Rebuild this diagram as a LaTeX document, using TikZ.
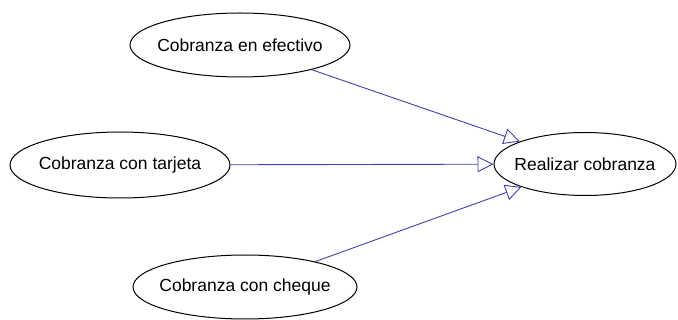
\documentclass[tikz,border=0pt]{standalone}
\usepackage{fontspec}
\setmainfont{Liberation Sans}
\usetikzlibrary{shapes.geometric,arrows.meta}
\definecolor{linkblue}{RGB}{64,64,176}
\begin{document}
\begin{tikzpicture}[x=1pt,y=-1pt,
  usecase/.style={draw=black, line width=1pt, ellipse, inner sep=0pt},
  label/.style={font=\fontsize{17.5}{20}\selectfont, inner sep=0pt},
  gen/.style={draw=linkblue, line width=0.9pt, -{Triangle[open, length=16pt, width=16pt, line width=0.9pt]}}]
\useasboundingbox (0,0) rectangle (678,320);
\node[usecase, minimum width=220pt, minimum height=64pt] (e1) at (240,45) {};
\node[usecase, minimum width=220pt, minimum height=66pt] (e2) at (120,165) {};
\node[usecase, minimum width=224pt, minimum height=64pt] (e3) at (245,287) {};
\node[usecase, minimum width=182pt, minimum height=63pt] (e4) at (585,164) {};
\node[label] (t1) at (e1) {Cobranza en efectivo};
\node[label] (t2) at (e2) {Cobranza con tarjeta};
\node[label] (t3) at (e3) {Cobranza con cheque};
\node[label] (t4) at (e4) {Realizar cobranza};
\draw[gen] (e1) -- (e4);
\draw[gen] (e2) -- (e4);
\draw[gen] (e3) -- (e4);
\end{tikzpicture}
\end{document}
